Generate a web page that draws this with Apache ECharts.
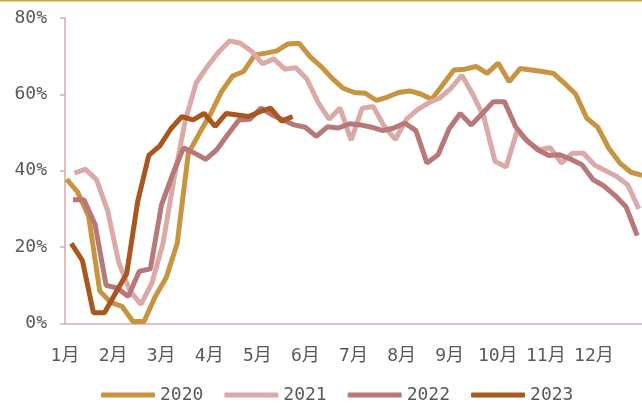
<!DOCTYPE html>
<html>
<head>
<meta charset="utf-8">
<script src="https://cdn.jsdelivr.net/npm/echarts@6/dist/echarts.min.js"></script>
<style>
  html, body { margin: 0; padding: 0; background: #ffffff; }
  #chart { width: 642px; height: 406px; }
</style>
</head>
<body>
<div id="chart"></div>
<script>
// ---- Data (weekly readings, %) ----
const seriesNames = ['2020', '2021', '2022', '2023'];
const startDates = ['2020-01-02', '2021-01-07', '2022-01-06', '2023-01-05'];
const monthLabels = ['1月','2月','3月','4月','5月','6月','7月','8月','9月','10月','11月','12月'];
const yTicks = [0, 20, 40, 60, 80];

const v2020 = [37.8,34.4,28,8.5,5.5,4.5,0.5,0.5,7,12,21,44.5,49.8,54.8,60.7,64.8,66,70.3,70.8,71.4,73.2,73.4,69.9,67.3,64.2,61.6,60.5,60.3,58.4,59.3,60.5,60.9,60.1,58.7,62.5,66.4,66.6,67.3,65.5,68.2,63.3,66.8,66.4,66,65.5,62.9,60.1,53.8,51.4,45.9,42,39.6,38.8];
const v2021 = [39.4,40.4,37.6,29.5,16,8.6,5,10.6,21,38,53,63,67.3,71,74,73.4,71.3,68,69.3,66.6,67,64,58,53.5,56.4,48,56.4,56.8,51.6,48.2,53.5,56,57.8,59,61.5,65,60,54,42.5,41,50.5,47.5,45.5,46,42,44.6,44.6,41.5,40,38.5,36.3,30];
const v2022 = [32.4,32.4,26,10,9.3,7.1,13.7,14.3,31,39,46,44.6,43,45.5,49.5,53.3,53.5,56.4,54.6,53.3,52,51.4,49,51.5,51.2,52.3,52,51.4,50.5,51.2,52.5,50.5,42,44.2,51,55,52,55,58.1,58.1,51.6,48,45.5,44,44.2,43,41.6,37.7,36,33.5,30.5,23];
const v2023 = [21,16.5,2.8,2.8,8,13,32,44,46.5,51,54.2,53.3,55,51.6,55,54.6,54.2,55.4,56.4,53,54.2];

const colors = ['#C99440', '#DBA9A8', '#B77877', '#A9561F'];
const allValues = [v2020, v2021, v2022, v2023];

// Convert a weekly series to [dayOfYear, value] pairs
function toPairs(startStr, vals) {
  const [y, m, d] = startStr.split('-').map(Number);
  const startDay = (Date.UTC(y, m - 1, d) - Date.UTC(y, 0, 1)) / 86400000;
  return vals.map((v, i) => [startDay + 7 * i, v]);
}

const FONT = '"DejaVu Sans Mono", "Noto Sans CJK SC", monospace';
const axisColor = '#D9A9A9';
const textColor = '#595959';
const monthInterval = 365 / 12;

const chart = echarts.init(document.getElementById('chart'), null, { renderer: 'canvas' });
chart.setOption({
  animation: false,
  backgroundColor: '#ffffff',
  graphic: [{
    type: 'rect',
    shape: { x: 0, y: 0, width: 642, height: 1.5 },
    style: { fill: '#CDA33A' },
    silent: true
  }],
  grid: { left: 65, right: 0, top: 18, bottom: 82.5, containLabel: false },
  legend: {
    data: seriesNames,
    left: 96,
    top: 381,
    itemWidth: 54,
    itemHeight: 5,
    itemGap: 21,
    icon: 'roundRect',
    textStyle: { fontFamily: FONT, fontSize: 18, color: textColor }
  },
  xAxis: {
    type: 'value',
    min: 0,
    max: 365,
    interval: monthInterval,
    axisLine: { show: true, lineStyle: { color: axisColor, width: 1.5 } },
    axisTick: { show: false },
    splitLine: { show: false },
    axisLabel: {
      margin: 24,
      fontFamily: FONT,
      fontSize: 18,
      color: textColor,
      showMaxLabel: false,
      formatter: function (v) {
        const k = Math.round(v / monthInterval);
        return k < 12 ? monthLabels[k] : '';
      }
    }
  },
  yAxis: {
    type: 'value',
    min: yTicks[0],
    max: yTicks[yTicks.length - 1],
    interval: yTicks[1] - yTicks[0],
    axisLine: { show: true, lineStyle: { color: axisColor, width: 1.5 } },
    axisTick: { show: true, length: 5, lineStyle: { color: axisColor, width: 1.5 } },
    splitLine: { show: false },
    axisLabel: {
      margin: 18,
      fontFamily: FONT,
      fontSize: 18,
      color: textColor,
      formatter: '{value}%'
    }
  },
  series: seriesNames.map((name, idx) => ({
    name: name,
    type: 'line',
    data: toPairs(startDates[idx], allValues[idx]),
    showSymbol: false,
    symbol: 'none',
    color: colors[idx],
    lineStyle: { width: 5, color: colors[idx] },
    itemStyle: { color: colors[idx] },
    z: 2 + idx
  }))
});
</script>
</body>
</html>
